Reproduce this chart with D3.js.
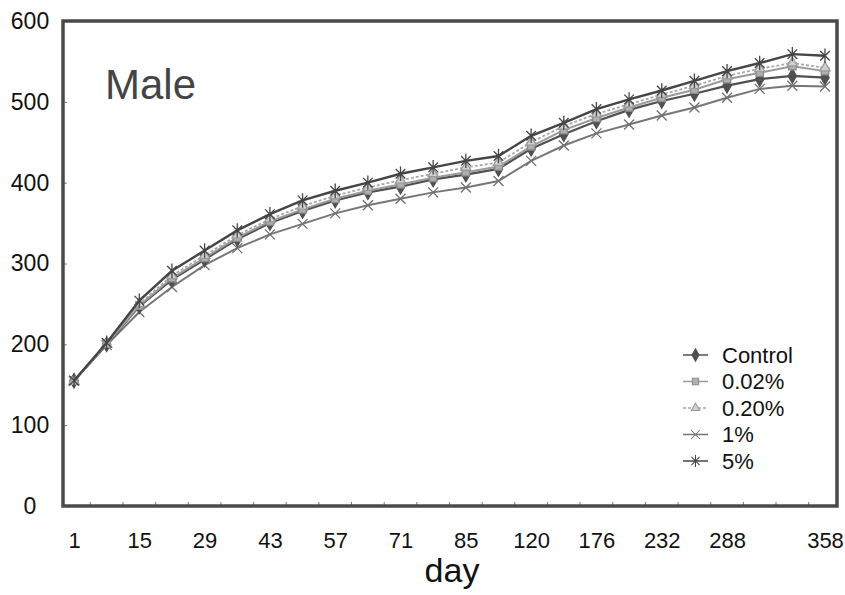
<!DOCTYPE html>
<html>
<head>
<meta charset="utf-8">
<script src="https://cdn.jsdelivr.net/npm/d3@7"></script>
<style>
  body { margin: 0; background: #fff; }
  text { font-family: "Liberation Sans", Arial, sans-serif; }
</style>
</head>
<body>
<div id="chart"></div>
<script>
const svgWidth = 845
const svgHeight = 595

// days (categories) and the labels that are printed on the axis
const days = [1, 8, 15, 22, 29, 36, 43, 50, 57, 64, 71, 78, 85, 92, 120, 148, 176, 204, 232, 260, 288, 316, 344, 358]
const tickDays = [1, 15, 29, 43, 57, 71, 85, 120, 176, 232, 288, 358]
const yTicks = [0, 100, 200, 300, 400, 500, 600]

// body weight per group
const control = [155, 200, 247, 280, 305, 330, 350, 365, 378, 388, 395, 404, 410, 417, 442, 460, 476, 490, 501, 510, 520, 528, 532, 530]
const pct002 = [155, 201, 248, 282, 307, 332, 352, 367, 380, 390, 398, 406, 413, 420, 445, 465, 480, 493, 505, 515, 528, 536, 544, 538]
const pct020 = [154, 200, 250, 285, 310, 335, 355, 371, 384, 394, 403, 411, 419, 425, 450, 470, 485, 497, 509, 520, 532, 541, 548, 542]
const pct1 = [155, 199, 240, 271, 298, 319, 336, 349, 362, 372, 380, 388, 394, 402, 427, 446, 461, 472, 483, 493, 505, 516, 520, 519]
const pct5 = [155, 202, 254, 291, 316, 341, 361, 378, 390, 400, 411, 419, 427, 433, 458, 474, 491, 503, 514, 526, 538, 548, 559, 557]

const seriesNames = ["Control", "0.02%", "0.20%", "1%", "5%"]
const seriesValues = [control, pct002, pct020, pct1, pct5]

const frame = { left: 63, top: 21, right: 837, bottom: 506 }

// marker shapes
const xMark = r => `M${-r},${-r}L${r},${r}M${-r},${r}L${r},${-r}`
const starMark = r => `${xMark(r * 0.8)}M0,${-r * 1.2}L0,${r * 1.2}`

const styles = {
    "Control": { stroke: "#505050", dash: null, width: 2.2, marker: d3.symbol(d3.symbolDiamond, 60)(), fill: "#505050", mstroke: "#505050" },
    "0.02%": { stroke: "#9a9a9a", dash: null, width: 2, marker: d3.symbol(d3.symbolSquare, 55)(), fill: "#b0b0b0", mstroke: "#8a8a8a" },
    "0.20%": { stroke: "#a8a8a8", dash: "3,2", width: 1.8, marker: d3.symbol(d3.symbolTriangle, 45)(), fill: "#d0d0d0", mstroke: "#9a9a9a" },
    "1%": { stroke: "#767676", dash: null, width: 2, marker: xMark(5), fill: "none", mstroke: "#707070" },
    "5%": { stroke: "#454545", dash: null, width: 2.4, marker: starMark(6), fill: "none", mstroke: "#454545" }
}

const svg = d3.select("#chart").append("svg")
    .attr("width", svgWidth)
    .attr("height", svgHeight)

const x = d3.scalePoint()
    .domain(days)
    .range([74, 825])

const y = d3.scaleLinear()
    .domain([0, 600])
    .range([frame.bottom, frame.top])

// x labels
const xAxisG = svg.append("g")
    .attr("transform", `translate(0, ${frame.bottom})`)
    .call(d3.axisBottom(x).tickValues(tickDays).tickSize(0).tickPadding(26))
xAxisG.select(".domain").remove()
xAxisG.selectAll("text")
    .attr("font-size", 22)
    .attr("font-family", "Liberation Sans, Arial, sans-serif")
    .attr("fill", "#111")

// y labels
const yAxisG = svg.append("g")
    .attr("transform", `translate(${frame.left}, 0)`)
    .call(d3.axisLeft(y).tickValues(yTicks).tickSize(0).tickPadding(33))
yAxisG.select(".domain").remove()
yAxisG.selectAll("text")
    .attr("text-anchor", "middle")
    .attr("font-size", 23)
    .attr("font-family", "Liberation Sans, Arial, sans-serif")
    .attr("fill", "#111")

// small inner ticks on the left
const yInner = svg.append("g")
    .attr("transform", `translate(${frame.left}, 0)`)
    .call(d3.axisRight(y).tickValues(yTicks.slice(1, -1)).tickSize(4).tickFormat(""))
yInner.select(".domain").remove()
yInner.selectAll("line").attr("stroke", "#777")

// small inner ticks between categories on the bottom
const bounds = days.slice(0, -1).map((d, i) => (x(d) + x(days[i + 1])) / 2)
svg.append("g").selectAll("line")
    .data(bounds)
    .enter()
    .append("line")
    .attr("x1", d => d).attr("x2", d => d)
    .attr("y1", frame.bottom).attr("y2", frame.bottom - 4)
    .attr("stroke", "#777")

// frame
svg.append("rect")
    .attr("x", frame.left)
    .attr("y", frame.top)
    .attr("width", frame.right - frame.left)
    .attr("height", frame.bottom - frame.top)
    .attr("fill", "none")
    .attr("stroke", "#4a4a4a")
    .attr("stroke-width", 3.5)

// series, 1% first and 5% on top
const order = [3, 0, 1, 2, 4]
const line = d3.line()
    .x(d => x(d.day))
    .y(d => y(d.value))

order.forEach(k => {
    const name = seriesNames[k]
    const st = styles[name]
    const pts = days.map((d, i) => ({ day: d, value: seriesValues[k][i] }))
    const g = svg.append("g")
    g.append("path")
        .datum(pts)
        .attr("d", line)
        .attr("fill", "none")
        .attr("stroke", st.stroke)
        .attr("stroke-width", st.width)
        .attr("stroke-dasharray", st.dash)
    g.selectAll("path.mk")
        .data(pts)
        .enter()
        .append("path")
        .attr("class", "mk")
        .attr("transform", d => `translate(${x(d.day)}, ${y(d.value)})`)
        .attr("d", st.marker)
        .attr("fill", st.fill)
        .attr("stroke", st.mstroke)
        .attr("stroke-width", 1.3)
})

// title inside the plot
svg.append("text")
    .attr("x", 105)
    .attr("y", 99)
    .attr("font-size", 42)
    .attr("fill", "#444")
    .text("Male")

// x axis title
svg.append("text")
    .attr("x", 452)
    .attr("y", 582)
    .attr("text-anchor", "middle")
    .attr("font-size", 34)
    .attr("fill", "#111")
    .text("day")

// legend
const legend = svg.append("g")
    .attr("transform", "translate(683, 355)")

const legendItem = legend.selectAll("g")
    .data(seriesNames)
    .enter()
    .append("g")
    .attr("transform", (d, i) => `translate(0, ${i * 26.5})`)

legendItem.append("line")
    .attr("x1", 0).attr("x2", 25)
    .attr("y1", 0).attr("y2", 0)
    .attr("stroke", d => styles[d].stroke)
    .attr("stroke-width", 1.5)
    .attr("stroke-dasharray", d => styles[d].dash)

legendItem.append("path")
    .attr("transform", "translate(12.5, 0) scale(0.85)")
    .attr("d", d => styles[d].marker)
    .attr("fill", d => styles[d].fill)
    .attr("stroke", d => styles[d].mstroke)
    .attr("stroke-width", 1.2)

legendItem.append("text")
    .attr("x", 39)
    .attr("dy", "0.36em")
    .attr("font-size", 22)
    .attr("font-family", "Liberation Sans Narrow, Arial Narrow, Liberation Sans, sans-serif")
    .attr("fill", "#111")
    .text(d => d)
</script>
</body>
</html>
